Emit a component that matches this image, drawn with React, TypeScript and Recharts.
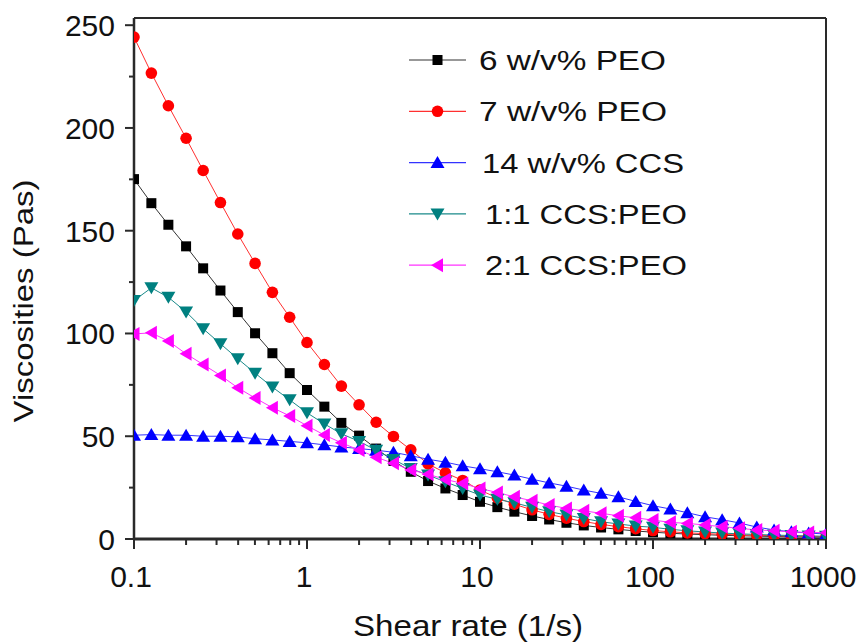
import React from "react";
import { Label, Legend, Line, LineChart, ReferenceLine, XAxis, YAxis } from "recharts";

// shear rate sweep, 10 points per decade
const shearRates = [
  0.1, 0.126, 0.158, 0.2, 0.251, 0.316, 0.398, 0.501, 0.631, 0.794,
  1, 1.26, 1.58, 2, 2.51, 3.16, 3.98, 5.01, 6.31, 7.94,
  10, 12.6, 15.8, 20, 25.1, 31.6, 39.8, 50.1, 63.1, 79.4,
  100, 126, 158, 200, 251, 316, 398, 501, 631, 794, 1000,
];

const peo6 = [
  175.1, 163.4, 152.9, 142.4, 131.7, 120.9, 110.4, 100.1, 90.4, 80.7,
  72.5, 64.4, 56.5, 50.3, 44.0, 38.0, 32.7, 28.2, 24.6, 21.4,
  18.1, 15.5, 13.3, 11.2, 9.5, 7.9, 6.6, 5.6, 4.7, 3.9,
  3.3, 2.8, 2.4, 2.1, 1.8, 1.6, 1.4, 1.2, 1.1, 1.0, 0.9,
];

const peo7 = [
  244.2, 226.7, 210.8, 195.0, 179.3, 163.7, 148.4, 134.1, 120.0, 107.9,
  95.6, 84.9, 74.4, 65.3, 56.8, 49.9, 43.4, 36.5, 32.2, 28.5,
  23.8, 20.0, 16.9, 14.2, 12.0, 10.1, 8.5, 7.1, 6.0, 5.0,
  4.1, 3.5, 3.0, 2.6, 2.3, 2.0, 1.8, 1.6, 1.4, 1.3, 1.2,
];

const ccs14 = [
  50.5, 50.8, 50.5, 50.5, 50.0, 50.0, 49.7, 48.8, 48.2, 47.5,
  46.8, 45.8, 44.8, 44.0, 43.2, 42.2, 40.5, 38.8, 37.4, 35.6,
  34.2, 32.7, 31.1, 29.1, 27.3, 25.7, 23.8, 22.2, 20.5, 18.3,
  16.2, 14.6, 12.8, 10.8, 9.4, 7.8, 5.8, 4.4, 3.5, 2.9, 2.4,
];

const ccsPeo11 = [
  116.0, 122.2, 117.6, 110.5, 102.3, 95.0, 87.7, 80.7, 73.9, 67.7,
  61.4, 56.0, 51.2, 47.5, 43.2, 38.7, 34.3, 31.1, 27.8, 24.6,
  21.4, 19.3, 17.6, 15.4, 13.3, 11.7, 10.0, 8.4, 7.3, 6.3,
  5.7, 4.7, 4.0, 3.4, 2.9, 2.5, 2.2, 1.9, 1.7, 1.5, 1.3,
];

const ccsPeo21 = [
  99.8, 100.3, 96.3, 90.1, 84.9, 79.6, 73.6, 68.6, 63.9, 59.9,
  55.1, 50.6, 46.8, 43.3, 39.8, 36.8, 33.6, 31.5, 29.0, 27.0,
  24.6, 22.6, 20.5, 18.6, 16.5, 14.9, 13.7, 12.5, 11.3, 10.3,
  9.2, 8.1, 7.6, 6.8, 6.0, 5.2, 4.4, 4.0, 3.5, 3.2, 3.1,
];

const xTicks = [
  0.1, 0.2, 0.3, 0.4, 0.5, 0.6, 0.7, 0.8, 0.9,
  1, 2, 3, 4, 5, 6, 7, 8, 9,
  10, 20, 30, 40, 50, 60, 70, 80, 90,
  100, 200, 300, 400, 500, 600, 700, 800, 900, 1000,
];
const xMajor = [0.1, 1, 10, 100, 1000];
const yTicks = [0, 25, 50, 75, 100, 125, 150, 175, 200, 225, 250];
const yMajor = [0, 50, 100, 150, 200, 250];

const series = [
  { key: "peo6", name: "6 w/v% PEO", color: "#000000", line: "#333333", shape: "square", textX: 79, textLen: 187 },
  { key: "peo7", name: "7 w/v% PEO", color: "#ff0000", line: "#ff3030", shape: "circle", textX: 79, textLen: 188 },
  { key: "ccs14", name: "14 w/v% CCS", color: "#0000ff", line: "#3333ff", shape: "up", textX: 82, textLen: 202 },
  { key: "ccsPeo11", name: "1:1 CCS:PEO", color: "#008080", line: "#1a8a8a", shape: "down", textX: 85, textLen: 202 },
  { key: "ccsPeo21", name: "2:1 CCS:PEO", color: "#ff00ff", line: "#ff33ff", shape: "left", textX: 85, textLen: 202 },
];

const data = shearRates.map((x, i) => ({
  x,
  peo6: peo6[i],
  peo7: peo7[i],
  ccs14: ccs14[i],
  ccsPeo11: ccsPeo11[i],
  ccsPeo21: ccsPeo21[i],
}));

const FONT = "'Liberation Sans', Arial, sans-serif";
const AXIS = "#2a2a2a";

function Marker({ shape, cx, cy, color }: { shape: string; cx: number; cy: number; color: string }) {
  if (cx == null || cy == null) return null;
  switch (shape) {
    case "square":
      return <rect x={cx - 5} y={cy - 5} width={10} height={10} fill={color} />;
    case "circle":
      return <circle cx={cx} cy={cy} r={5.8} fill={color} />;
    case "up":
      return <path d={`M${cx},${cy - 6.5} L${cx + 7},${cy + 5.5} L${cx - 7},${cy + 5.5} Z`} fill={color} />;
    case "down":
      return <path d={`M${cx - 7},${cy - 5.5} L${cx + 7},${cy - 5.5} L${cx},${cy + 6.5} Z`} fill={color} />;
    default:
      return <path d={`M${cx - 6.5},${cy} L${cx + 5.5},${cy - 7} L${cx + 5.5},${cy + 7} Z`} fill={color} />;
  }
}

function XTick(props: any) {
  const { x, y, payload } = props;
  const major = xMajor.includes(payload.value);
  return (
    <g>
      <line x1={x} x2={x} y1={y} y2={y + (major ? 10 : 6)} stroke={AXIS} strokeWidth={2} />
      {major && (
        <text x={x - 3} y={y + 48} textAnchor="middle" fontSize={30} fontFamily={FONT} fill="#111">
          {payload.value}
        </text>
      )}
    </g>
  );
}

function YTick(props: any) {
  const { x, y, payload } = props;
  const major = yMajor.includes(payload.value);
  return (
    <g>
      <line x1={x - (major ? 9 : 5)} x2={x} y1={y} y2={y} stroke={AXIS} strokeWidth={2} />
      {major && (
        <text x={x - 19} y={y + 11} textAnchor="end" fontSize={30} fontFamily={FONT} fill="#111">
          {payload.value}
        </text>
      )}
    </g>
  );
}

function LegendBox() {
  return (
    <svg width={320} height={260}>
      {series.map((s, i) => {
        const y = 30 + i * 51.3;
        return (
          <g key={s.key}>
            <line x1={9} x2={66} y1={y} y2={y} stroke={s.line} strokeWidth={1.2} />
            <Marker shape={s.shape} cx={37.5} cy={y} color={s.color} />
            <text
              x={s.textX}
              y={y + 10}
              fontSize={27}
              fontFamily={FONT}
              fill="#111"
              textLength={s.textLen}
              lengthAdjust="spacingAndGlyphs"
            >
              {s.name}
            </text>
          </g>
        );
      })}
    </svg>
  );
}

export default function App() {
  return (
    <div style={{ position: "absolute", left: 0, top: 0, width: 865, height: 644, background: "#fff" }}>
      <LineChart width={865} height={644} data={data} margin={{ top: 18, right: 39, bottom: 0, left: 0 }}>
        <XAxis
          dataKey="x"
          type="number"
          scale="log"
          domain={[0.1, 1000]}
          allowDataOverflow
          ticks={xTicks}
          interval={0}
          tick={(p: any) => <XTick {...p} />}
          tickLine={false}
          tickSize={0}
          tickMargin={0}
          height={105}
          axisLine={{ stroke: AXIS, strokeWidth: 3 }}
        >
          <Label
            content={() => (
              <text
                x={468}
                y={636}
                textAnchor="middle"
                fontSize={29}
                fontFamily={FONT}
                fill="#111"
                textLength={230}
                lengthAdjust="spacingAndGlyphs"
              >
                Shear rate (1/s)
              </text>
            )}
          />
        </XAxis>
        <YAxis
          type="number"
          domain={[0, 253.5]}
          allowDataOverflow
          ticks={yTicks}
          interval={0}
          tick={(p: any) => <YTick {...p} />}
          tickLine={false}
          tickSize={0}
          tickMargin={0}
          width={134}
          axisLine={{ stroke: AXIS, strokeWidth: 2.5 }}
        >
          <Label
            content={() => (
              <text
                x={33}
                y={301}
                transform="rotate(-90, 33, 301)"
                textAnchor="middle"
                fontSize={27}
                fontFamily={FONT}
                fill="#111"
                textLength={243}
                lengthAdjust="spacingAndGlyphs"
              >
                Viscosities (Pas)
              </text>
            )}
          />
        </YAxis>
        <ReferenceLine y={253.5} stroke={AXIS} strokeWidth={2} />
        <ReferenceLine x={1000} stroke={AXIS} strokeWidth={2} />
        {series.map((s) => (
          <Line
            key={s.key}
            dataKey={s.key}
            name={s.name}
            stroke={s.line}
            strokeWidth={1}
            isAnimationActive={false}
            dot={(p: any) => <Marker key={`${s.key}-${p.index}`} shape={s.shape} cx={p.cx} cy={p.cy} color={s.color} />}
            activeDot={false}
          />
        ))}
        <Legend
          layout="vertical"
          align="center"
          verticalAlign="middle"
          content={() => <LegendBox />}
          wrapperStyle={{ left: 400, top: 30, width: 320, height: 260 }}
        />
      </LineChart>
    </div>
  );
}
